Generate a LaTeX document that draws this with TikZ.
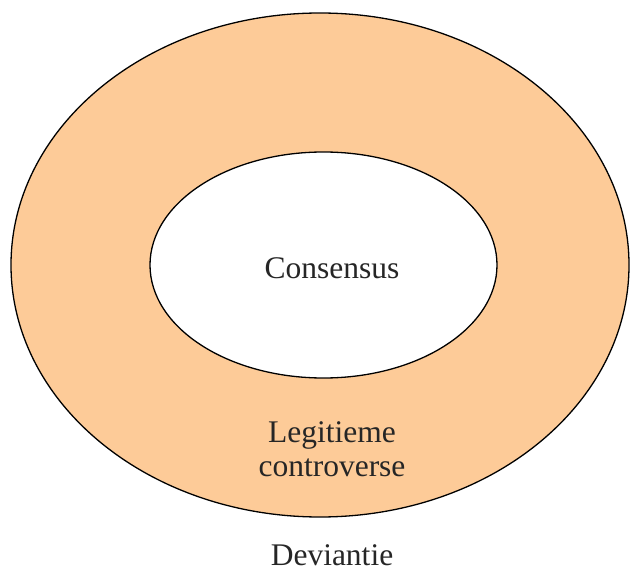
\documentclass[tikz,border=0pt]{standalone}
\usepackage{fontspec}
\setmainfont{Liberation Serif}
\definecolor{ringfill}{HTML}{FDCB98}
\definecolor{txt}{HTML}{262626}
\begin{document}
\begin{tikzpicture}[x=1pt,y=-1pt,
  lbl/.style={text=txt,font=\fontsize{31.5}{34}\selectfont,align=center,inner sep=0pt}]
\useasboundingbox (0,0) rectangle (630,567);
\draw[fill=ringfill,line width=1.3pt] (320,265) ellipse [x radius=309, y radius=252];
\draw[fill=white,line width=1.3pt] (323.5,265) ellipse [x radius=173.5, y radius=113];
\node[lbl] (cons) at (332,268) {Consensus};
\node[lbl] (leg) at (332,449) {Legitieme\\controverse};
\node[lbl] (dev) at (332,555) {Deviantie};
\end{tikzpicture}
\end{document}
